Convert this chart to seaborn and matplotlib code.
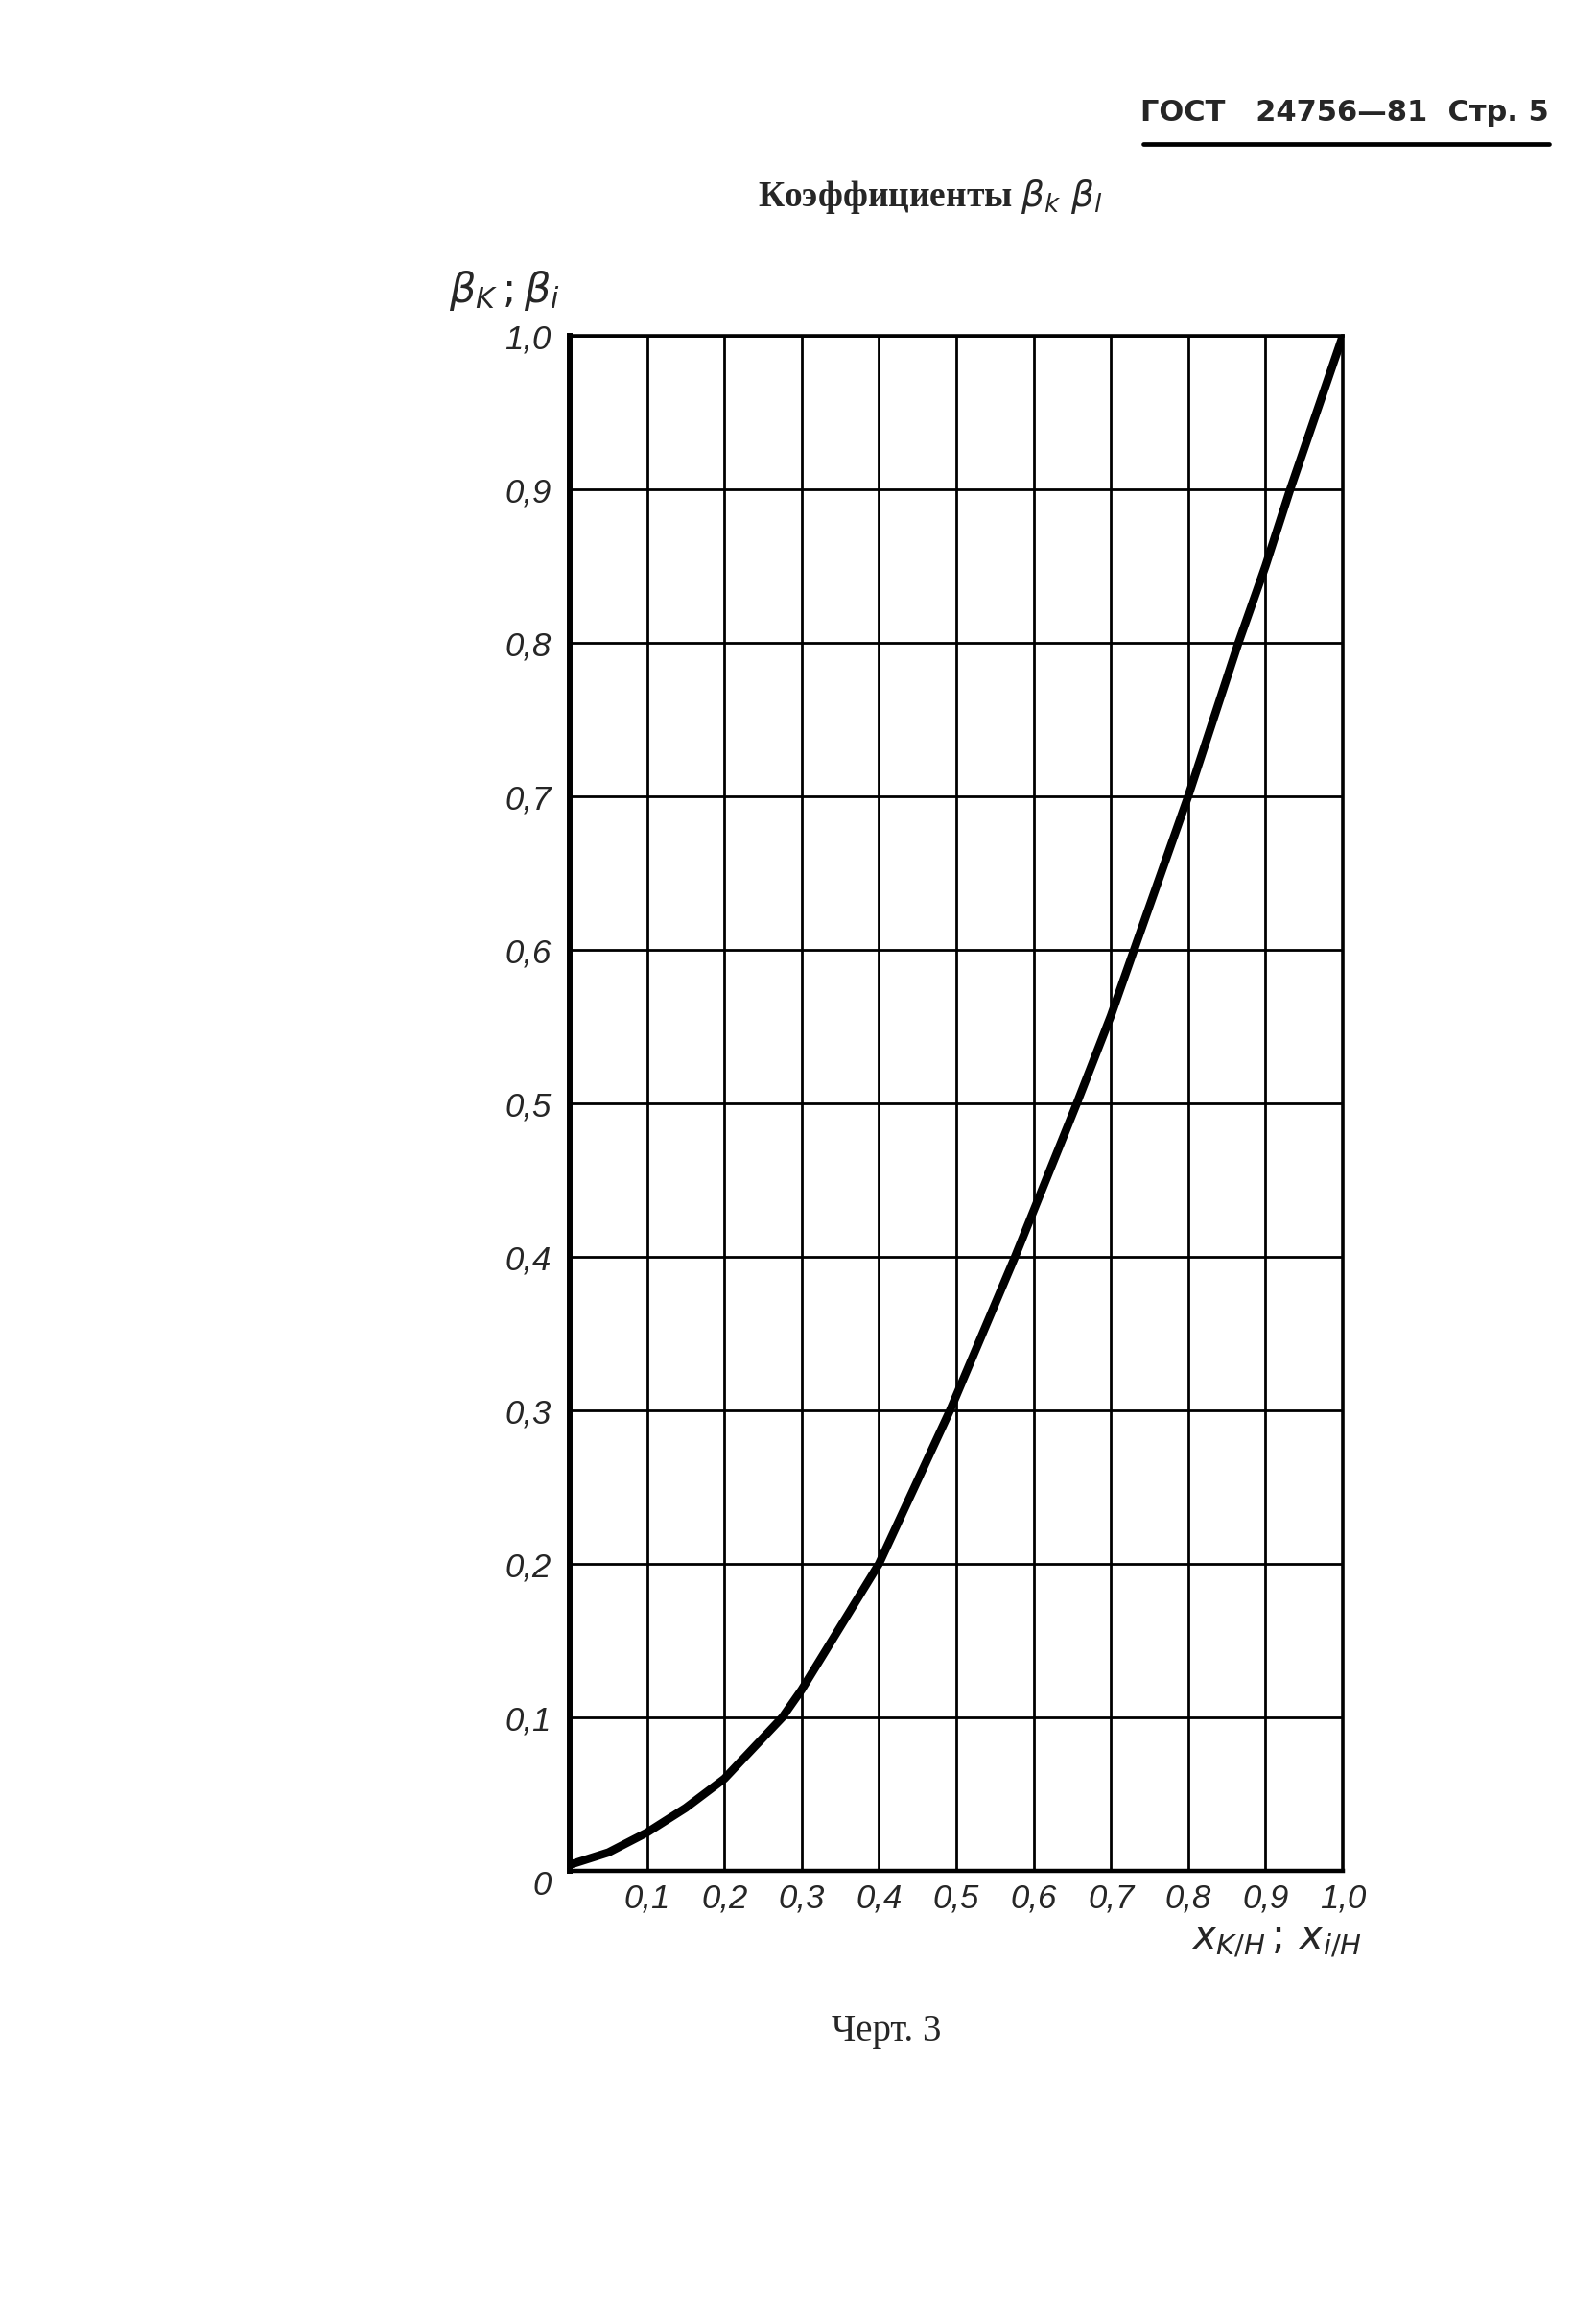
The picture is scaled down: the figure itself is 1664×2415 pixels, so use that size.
import numpy as np
import pandas as pd
import matplotlib
matplotlib.use("Agg")
import matplotlib.pyplot as plt
import matplotlib.transforms as mtransforms
import seaborn as sns

# curve (x/H -> beta)
X_REL = [0.0, 0.05, 0.1, 0.15, 0.2, 0.275, 0.3, 0.4, 0.492, 0.576,
         0.6, 0.656, 0.7, 0.73, 0.8, 0.865, 0.9, 0.932, 1.0]
BETA = [0.004, 0.012, 0.025, 0.041, 0.06, 0.1, 0.118, 0.2, 0.3, 0.4,
        0.43, 0.5, 0.557, 0.6, 0.7, 0.8, 0.85, 0.9, 1.0]

X_TICKS = [0.1, 0.2, 0.3, 0.4, 0.5, 0.6, 0.7, 0.8, 0.9, 1.0]
X_LABELS = ["0,1", "0,2", "0,3", "0,4", "0,5", "0,6", "0,7", "0,8", "0,9", "1,0"]
Y_TICKS = [0.0, 0.1, 0.2, 0.3, 0.4, 0.5, 0.6, 0.7, 0.8, 0.9, 1.0]
Y_LABELS = ["0", "0,1", "0,2", "0,3", "0,4", "0,5", "0,6", "0,7", "0,8", "0,9", "1,0"]

sns.set_style("white")
plt.rcParams['font.family'] = ['DejaVu Sans']
plt.rcParams['mathtext.fontset'] = 'dejavusans'

W, H = 1664, 2415
fig = plt.figure(figsize=(W / 100, H / 100), dpi=100)
ax = fig.add_axes([594 / W, 1 - 1950 / H, 806 / W, 1600 / H])

df = pd.DataFrame({"x": X_REL, "beta": BETA})
sns.lineplot(data=df, x="x", y="beta", ax=ax, color="black", linewidth=6.2,
             estimator=None, sort=True)
for line in ax.lines:
    line.set_solid_capstyle("round")
    line.set_solid_joinstyle("round")

ax.set_xlim(0, 1)
ax.set_ylim(0, 1)
ax.set_xticks(X_TICKS)
ax.set_yticks(Y_TICKS)
tick_font = dict(family=['Liberation Sans', 'DejaVu Sans'], style='italic', size=25)
ax.set_xticklabels(X_LABELS, fontdict=tick_font)
ax.set_yticklabels(Y_LABELS, fontdict=tick_font)
ax.tick_params(axis='y', length=0, pad=14)
ax.tick_params(axis='x', length=0, pad=9)
ax.grid(True, color="black", linewidth=2.0)
ax.set_axisbelow(True)
ax.set_xlabel("")
ax.set_ylabel("")

for side, lw in [("left", 4.3), ("bottom", 3.2), ("top", 2.6), ("right", 2.6)]:
    ax.spines[side].set_visible(True)
    ax.spines[side].set_color("black")
    ax.spines[side].set_linewidth(lw)

# "0" sits below the corner
zero_lbl = ax.get_yticklabels()[0]
zero_lbl.set_transform(zero_lbl.get_transform() +
                       mtransforms.ScaledTranslation(0, -0.12, fig.dpi_scale_trans))

# axis captions
fig.text(468 / W, 1 - 303 / H, r'$\beta_K\,;\beta_i$', fontsize=31,
         ha='left', va='center', style='italic')
fig.text(1420 / W, 1 - 2022 / H, r'$x_{K/H}\,;\,x_{i/H}$', fontsize=30,
         ha='right', va='center', style='italic')

# page header
fig.text(1615 / W, 1 - 118 / H, "ГОСТ   24756—81  Стр. 5", fontsize=22,
         fontweight='bold', ha='right', va='center')
fig.add_artist(plt.Line2D([1192 / W, 1615 / W], [1 - 150 / H, 1 - 150 / H],
                          color="black", linewidth=3.4))

# title and caption
fig.text(970 / W, 1 - 205 / H, r"Коэффициенты $\beta_k\ \beta_l$", fontsize=27,
         fontweight='bold', family=['Liberation Serif', 'DejaVu Serif'],
         ha='center', va='center')
fig.text(924 / W, 1 - 2117 / H, "Черт. 3", fontsize=28,
         family=['Liberation Serif', 'DejaVu Serif'], ha='center', va='center')

fig.savefig("out.png", dpi=100, facecolor="white")
